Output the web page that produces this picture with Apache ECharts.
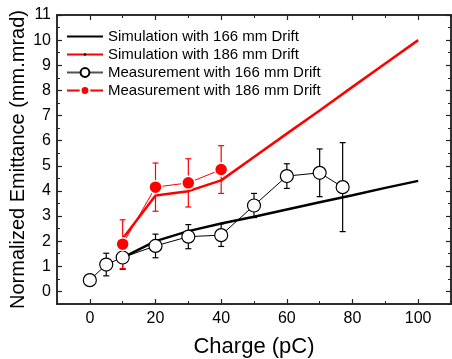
<!DOCTYPE html>
<html>
<head>
<meta charset="utf-8">
<script src="https://cdn.jsdelivr.net/npm/echarts@6/dist/echarts.min.js"></script>
<style>html,body{margin:0;padding:0;background:#fff;}#c{width:452px;height:359px;}</style>
</head>
<body>
<div id="c"></div>
<script>
const simCharge = [10, 20, 30, 40, 50, 60, 70, 80, 90, 100];
const sim166 = [1.35, 2.0, 2.4, 2.7, 2.97, 3.26, 3.55, 3.83, 4.12, 4.4];
const sim186 = [2.1, 3.82, 3.99, 4.42, 5.35, 6.28, 7.2, 8.14, 9.07, 10.0];
const meas166Charge = [0, 5, 10, 20, 30, 40, 50, 60, 70, 77];
const meas166 = [0.45, 1.07, 1.35, 1.81, 2.18, 2.24, 3.42, 4.59, 4.72, 4.15];
const meas166Err = [0.15, 0.45, 0.47, 0.47, 0.48, 0.45, 0.48, 0.49, 0.95, 1.77];
const meas186Charge = [10, 20, 30, 40];
const meas186 = [1.88, 4.15, 4.32, 4.85];
const meas186Err = [0.97, 0.96, 0.96, 0.95];
const xMajorTicks = [0, 20, 40, 60, 80, 100];
const yMajorTicks = [0, 1, 2, 3, 4, 5, 6, 7, 8, 9, 10, 11];
const names = ['Simulation with 166 mm Drift', 'Simulation with 186 mm Drift',
  'Measurement with 166 mm Drift', 'Measurement with 186 mm Drift'];

const FONT = 'Liberation Sans, Arial, sans-serif';
const pair = (xs, ys) => xs.map((x, i) => [x, ys[i]]);
const errData = (xs, ys, es) => xs.map((x, i) => [x, ys[i] - es[i], ys[i] + es[i]]);
// tiny centred dot inside a padded box (used for legend symbols of the simulation lines)
const tinyDot = r => 'path://M0,0M20,20M' + (10 - r) + ',10a' + r + ',' + r + ' 0 1,0 ' + (2 * r) + ',0a' + r + ',' + r + ' 0 1,0 ' + (-2 * r) + ',0z';

function errRender(color) {
  return function (params, api) {
    const lo = api.coord([api.value(0), api.value(1)]);
    const hi = api.coord([api.value(0), api.value(2)]);
    const st = {stroke: color, lineWidth: 1.2};
    return {type: 'group', children: [
      {type: 'line', shape: {x1: lo[0], y1: lo[1], x2: hi[0], y2: hi[1]}, style: st},
      {type: 'line', shape: {x1: lo[0] - 3, y1: lo[1], x2: lo[0] + 3, y2: lo[1]}, style: st},
      {type: 'line', shape: {x1: hi[0] - 3, y1: hi[1], x2: hi[0] + 3, y2: hi[1]}, style: st}
    ]};
  };
}

const lineC = '#222';
function xAx(pos, major) {
  return {
    type: 'value', position: pos, min: -10, max: 110,
    interval: major ? undefined : 10,
    splitLine: {show: false},
    axisLine: {show: true, lineStyle: {color: lineC, width: 1.5}, onZero: false},
    axisTick: major ? {show: true, inside: true, length: 5, customValues: xMajorTicks, lineStyle: {color: lineC, width: 1.2}}
                    : {show: true, inside: true, length: 3, lineStyle: {color: lineC, width: 1}},
    axisLabel: (major && pos === 'bottom') ? {show: true, customValues: xMajorTicks, fontSize: 16, color: '#000', fontFamily: FONT, margin: 7}
                                          : {show: false},
    name: (major && pos === 'bottom') ? 'Charge (pC)' : '',
    nameLocation: 'middle', nameGap: 32, nameMoveOverlap: false,
    nameTextStyle: {fontSize: 22, color: '#000', fontFamily: FONT}
  };
}
function yAx(pos, major) {
  return {
    type: 'value', position: pos, min: -0.5, max: 11,
    interval: major ? undefined : 0.5,
    splitLine: {show: false},
    axisLine: {show: true, lineStyle: {color: lineC, width: 1.5}, onZero: false},
    axisTick: major ? {show: true, inside: true, length: 5, customValues: yMajorTicks, lineStyle: {color: lineC, width: 1.2}}
                    : {show: true, inside: true, length: 3, lineStyle: {color: lineC, width: 1}},
    axisLabel: (major && pos === 'left') ? {show: true, customValues: yMajorTicks, fontSize: 16, color: '#000', fontFamily: FONT, margin: 6}
                                        : {show: false},
    name: (major && pos === 'left') ? 'Normalized Emittance (mm.mrad)' : '',
    nameLocation: 'middle', nameGap: 29, nameMoveOverlap: false,
    nameTextStyle: {fontSize: 20, color: '#000', fontFamily: FONT}
  };
}

const chart = echarts.init(document.getElementById('c'), null, {renderer: 'canvas'});
chart.setOption({
  animation: false,
  backgroundColor: '#fff',
  grid: {left: 57, top: 15, width: 394, height: 289, containLabel: false, outerBoundsMode: 'none'},
  xAxis: [xAx('bottom', true), xAx('bottom', false), xAx('top', true), xAx('top', false)],
  yAxis: [yAx('left', true), yAx('left', false), yAx('right', true), yAx('right', false)],
  legend: {
    data: [
      {name: names[0]},
      {name: names[1]},
      {name: names[2], lineStyle: {color: '#555'}},
      {name: names[3]}
    ],
    orient: 'vertical', left: 61, top: 24,
    itemWidth: 36, itemHeight: 11, itemGap: 3,
    textStyle: {fontSize: 15, color: '#000', fontFamily: FONT},
    selectedMode: false
  },
  series: [
    {type: 'line', name: names[0], data: pair(simCharge, sim166), symbol: tinyDot(1), showSymbol: false,
      lineStyle: {color: '#000', width: 2.5}, itemStyle: {color: '#000'}, z: 3},
    {type: 'line', name: names[1], data: pair(simCharge, sim186), symbol: tinyDot(3), showSymbol: false,
      lineStyle: {color: '#f00', width: 2.5}, itemStyle: {color: '#000'}, z: 3},
    {type: 'custom', name: 'err166', renderItem: errRender('#000'), data: errData(meas166Charge, meas166, meas166Err), z: 4},
    {type: 'custom', name: 'err186', renderItem: errRender('#f00'), data: errData(meas186Charge, meas186, meas186Err), z: 4},
    {type: 'line', name: names[2], data: pair(meas166Charge, meas166), symbol: 'circle', symbolSize: 13,
      lineStyle: {color: '#000', width: 1}, itemStyle: {color: '#fff', borderColor: '#000', borderWidth: 1.2}, z: 5},
    {type: 'line', name: names[3], data: pair(meas186Charge, meas186), symbol: 'circle', symbolSize: 13,
      lineStyle: {color: '#f00', width: 1}, itemStyle: {color: '#f00', borderColor: '#fff', borderWidth: 1.5}, z: 5}
  ]
});
</script>
</body>
</html>
